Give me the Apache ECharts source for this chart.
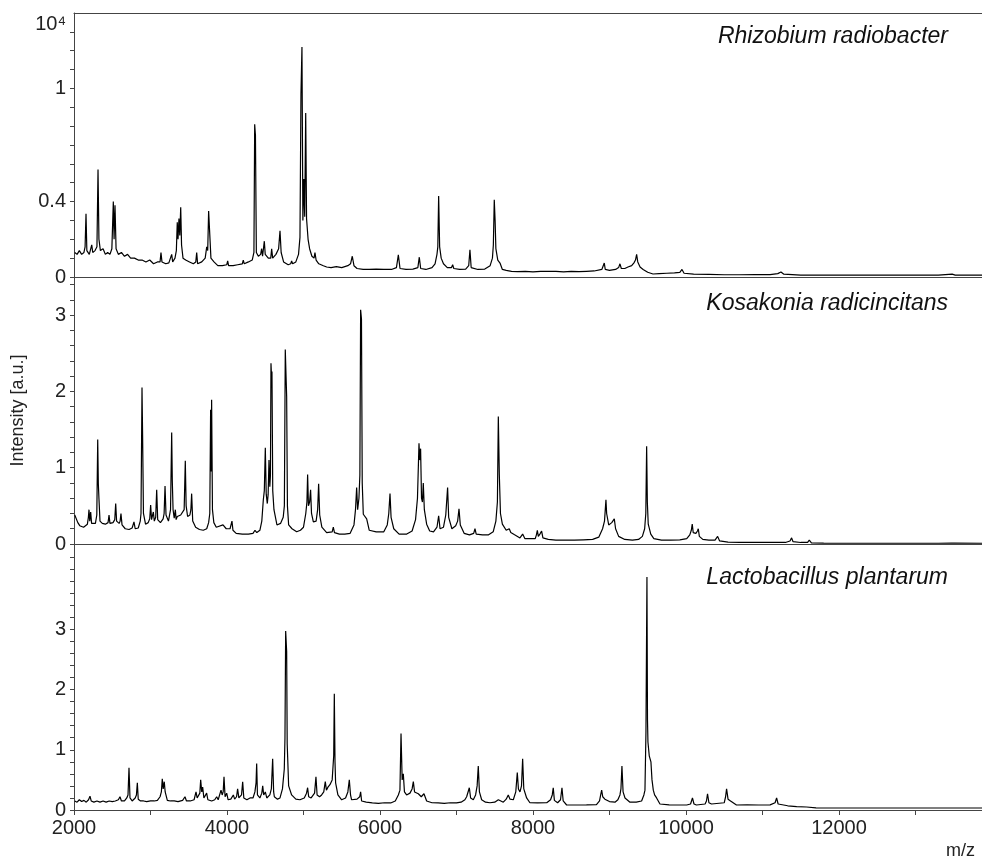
<!DOCTYPE html>
<html lang="en">
<head>
    <meta charset="UTF-8">
    <title>MALDI-TOF spectra</title>
    <script type="text/javascript" src="https://cdn.jsdelivr.net/npm/echarts@6.0.0/dist/echarts.min.js"></script>
    <style>
        html, body { margin: 0; padding: 0; background: #fff; }
        #spectra { width: 982px; height: 862px; }
    </style>
</head>
<body>
<div id="spectra"></div>

<script type="text/javascript">
    // species shown in the three panels (top to bottom)
    var species = ['Rhizobium radiobacter', 'Kosakonia radicincitans', 'Lactobacillus plantarum'];

    // tick labels
    var mzLabels = [2000, 4000, 6000, 8000, 10000, 12000];
    var rhizobiumTicks = [0, 0.4, 1];
    var kosakoniaTicks = [0, 1, 2, 3];
    var lactobacillusTicks = [0, 1, 2, 3];

    // spectra: [m/z, intensity]
    var rhizobium = [
        [2010,0.13],[2040,0.12],[2070,0.14],[2100,0.12],[2130,0.13],[2145,0.16],[2157,0.335],[2168,0.14],[2200,0.12],[2220,0.13],
        [2232,0.17],[2245,0.13],[2275,0.14],[2300,0.16],[2314,0.57],[2326,0.2],[2345,0.14],[2380,0.15],[2410,0.12],[2440,0.13],
        [2470,0.12],[2495,0.15],[2514,0.40],[2524,0.2],[2536,0.38],[2550,0.15],[2580,0.12],[2620,0.13],[2660,0.11],[2700,0.12],
        [2740,0.1],[2790,0.1],[2840,0.09],[2890,0.09],[2940,0.08],[2990,0.09],[3040,0.07],[3090,0.08],[3125,0.08],[3137,0.13],
        [3150,0.08],[3200,0.07],[3240,0.075],[3265,0.08],[3277,0.12],[3290,0.08],[3320,0.1],[3338,0.14],[3350,0.29],[3360,0.2],
        [3372,0.31],[3383,0.22],[3395,0.37],[3406,0.17],[3425,0.1],[3460,0.09],[3510,0.08],[3560,0.07],[3592,0.08],[3604,0.13],
        [3616,0.07],[3670,0.08],[3715,0.1],[3735,0.16],[3748,0.14],[3760,0.35],[3772,0.25],[3790,0.1],[3830,0.08],[3880,0.06],
        [3940,0.06],[3997,0.065],[4009,0.085],[4021,0.06],[4080,0.06],[4140,0.065],[4200,0.07],[4213,0.09],[4226,0.07],[4280,0.08],
        [4330,0.09],[4352,0.13],[4362,0.81],[4372,0.75],[4384,0.13],[4410,0.11],[4440,0.12],[4453,0.15],[4465,0.11],[4478,0.12],
        [4488,0.19],[4500,0.12],[4540,0.1],[4572,0.1],[4584,0.15],[4597,0.1],[4640,0.12],[4675,0.15],[4693,0.245],[4708,0.13],
        [4740,0.08],[4800,0.065],[4833,0.07],[4845,0.085],[4858,0.07],[4900,0.08],[4935,0.12],[4954,0.21],[4967,0.97],[4980,1.22],
        [4992,0.3],[5005,0.52],[5016,0.32],[5029,0.87],[5040,0.31],[5060,0.2],[5080,0.15],[5110,0.11],[5138,0.1],[5150,0.13],
        [5165,0.09],[5200,0.07],[5260,0.06],[5303,0.053],[5360,0.05],[5430,0.055],[5500,0.05],[5580,0.06],[5615,0.07],[5638,0.11],
        [5660,0.06],[5700,0.045],[5780,0.04],[5860,0.04],[5950,0.042],[6050,0.04],[6150,0.04],[6215,0.05],[6240,0.117],[6262,0.045],
        [6340,0.04],[6430,0.042],[6495,0.05],[6514,0.105],[6532,0.045],[6600,0.04],[6680,0.05],[6720,0.07],[6745,0.12],[6756,0.16],
        [6767,0.43],[6780,0.16],[6800,0.1],[6830,0.07],[6880,0.05],[6935,0.05],[6950,0.065],[6965,0.045],[7040,0.04],[7120,0.042],
        [7160,0.06],[7176,0.144],[7192,0.05],[7280,0.04],[7370,0.042],[7440,0.06],[7470,0.1],[7482,0.17],[7494,0.41],[7505,0.3],
        [7515,0.15],[7540,0.09],[7569,0.074],[7600,0.04],[7650,0.035],[7720,0.03],[7800,0.028],[7900,0.03],[8000,0.027],[8100,0.03],
        [8200,0.03],[8300,0.03],[8400,0.027],[8500,0.03],[8600,0.028],[8700,0.03],[8800,0.032],[8900,0.04],[8920,0.05],[8932,0.074],
        [8945,0.04],[9000,0.035],[9080,0.04],[9120,0.05],[9137,0.07],[9155,0.045],[9200,0.045],[9242,0.053],[9290,0.06],[9320,0.075],
        [9340,0.09],[9355,0.12],[9370,0.08],[9400,0.053],[9440,0.04],[9500,0.025],[9569,0.016],[9650,0.018],[9750,0.02],[9850,0.022],
        [9920,0.025],[9948,0.04],[9975,0.02],[10100,0.015],[10300,0.014],[10500,0.012],[10700,0.012],[10900,0.013],[11100,0.013],[11200,0.018],
        [11242,0.027],[11280,0.015],[11500,0.01],[11800,0.01],[12100,0.01],[12400,0.01],[12700,0.01],[13000,0.01],[13300,0.01],[13480,0.015],
        [13520,0.01],[13870,0.01]
    ];

    var kosakonia = [
        [2010,0.38],[2030,0.36],[2050,0.28],[2075,0.24],[2100,0.25],[2125,0.22],[2150,0.24],[2175,0.26],[2188,0.35],[2196,0.45],
        [2206,0.3],[2218,0.42],[2230,0.27],[2255,0.25],[2280,0.27],[2298,0.38],[2310,1.37],[2318,0.79],[2326,0.6],[2340,0.3],
        [2370,0.27],[2410,0.26],[2445,0.28],[2458,0.38],[2470,0.27],[2510,0.28],[2533,0.32],[2545,0.53],[2557,0.3],[2590,0.27],
        [2603,0.3],[2614,0.4],[2628,0.25],[2670,0.2],[2720,0.19],[2760,0.21],[2784,0.29],[2800,0.2],[2840,0.21],[2866,0.3],
        [2876,0.4],[2889,2.05],[2897,1.41],[2908,0.4],[2935,0.26],[2970,0.28],[2990,0.33],[3002,0.51],[3014,0.32],[3028,0.34],
        [3037,0.42],[3050,0.3],[3068,0.35],[3081,0.71],[3094,0.32],[3130,0.28],[3165,0.33],[3178,0.4],[3190,0.76],[3203,0.38],
        [3235,0.3],[3262,0.45],[3277,1.46],[3285,0.83],[3295,0.45],[3310,0.34],[3325,0.45],[3335,0.32],[3350,0.36],[3370,0.34],
        [3395,0.38],[3420,0.36],[3440,0.45],[3455,1.09],[3466,0.5],[3485,0.36],[3515,0.38],[3528,0.45],[3538,0.66],[3552,0.3],
        [3590,0.22],[3640,0.19],[3690,0.18],[3735,0.2],[3760,0.28],[3775,0.4],[3786,1.76],[3793,0.95],[3799,1.89],[3810,0.45],
        [3828,0.28],[3860,0.22],[3882,0.2],[3948,0.25],[3990,0.2],[4040,0.2],[4055,0.22],[4065,0.3],[4078,0.18],[4120,0.14],
        [4200,0.13],[4280,0.13],[4340,0.14],[4366,0.18],[4390,0.15],[4430,0.18],[4455,0.3],[4475,0.58],[4488,0.7],[4501,1.26],
        [4513,0.65],[4527,0.53],[4538,0.65],[4549,1.1],[4560,0.75],[4568,0.9],[4575,2.37],[4582,2.2],[4588,2.26],[4598,0.7],
        [4614,0.45],[4653,0.25],[4700,0.27],[4735,0.35],[4750,0.5],[4762,2.55],[4772,2.2],[4780,1.93],[4790,0.5],[4806,0.25],
        [4850,0.2],[4911,0.16],[4960,0.18],[5000,0.22],[5030,0.4],[5045,0.55],[5054,0.91],[5065,0.5],[5080,0.55],[5093,0.71],
        [5105,0.4],[5129,0.29],[5165,0.3],[5185,0.45],[5198,0.79],[5212,0.38],[5240,0.22],[5303,0.15],[5375,0.16],[5390,0.22],
        [5405,0.15],[5470,0.13],[5540,0.13],[5610,0.14],[5660,0.25],[5680,0.45],[5695,0.74],[5708,0.45],[5725,0.6],[5737,0.9],
        [5747,3.07],[5758,2.95],[5768,0.8],[5782,0.39],[5826,0.33],[5860,0.18],[5950,0.16],[6050,0.16],[6095,0.25],[6115,0.4],
        [6131,0.66],[6145,0.35],[6180,0.2],[6250,0.13],[6350,0.13],[6420,0.17],[6465,0.32],[6490,0.6],[6510,1.32],[6520,1.1],
        [6531,1.25],[6543,0.6],[6555,0.55],[6566,0.8],[6580,0.45],[6610,0.26],[6650,0.17],[6700,0.16],[6745,0.22],[6767,0.37],
        [6785,0.2],[6830,0.22],[6860,0.38],[6884,0.74],[6898,0.35],[6940,0.2],[6990,0.24],[7015,0.3],[7033,0.46],[7050,0.25],
        [7100,0.14],[7170,0.12],[7225,0.14],[7242,0.2],[7258,0.13],[7340,0.12],[7420,0.12],[7480,0.16],[7515,0.3],[7535,0.55],
        [7547,1.67],[7560,0.91],[7575,0.4],[7600,0.26],[7650,0.18],[7675,0.17],[7690,0.2],[7710,0.15],[7760,0.12],[7830,0.08],
        [7865,0.13],[7895,0.07],[7960,0.07],[8030,0.07],[8045,0.12],[8057,0.18],[8070,0.1],[8090,0.13],[8113,0.17],[8130,0.08],
        [8200,0.06],[8300,0.05],[8420,0.05],[8540,0.05],[8660,0.055],[8780,0.06],[8860,0.09],[8910,0.2],[8935,0.3],[8954,0.58],
        [8963,0.4],[8971,0.39],[8990,0.25],[9030,0.28],[9050,0.3],[9063,0.33],[9080,0.2],[9120,0.1],[9200,0.06],[9300,0.05],
        [9380,0.06],[9430,0.1],[9460,0.2],[9475,0.4],[9486,1.28],[9495,0.55],[9507,0.26],[9540,0.13],[9580,0.07],[9680,0.05],
        [9800,0.05],[9920,0.055],[10010,0.07],[10050,0.12],[10070,0.18],[10082,0.26],[10095,0.15],[10130,0.14],[10150,0.17],[10161,0.2],
        [10175,0.1],[10220,0.06],[10300,0.05],[10380,0.05],[10414,0.1],[10440,0.04],[10550,0.025],[10700,0.02],[10900,0.02],[11100,0.02],
        [11300,0.02],[11360,0.04],[11381,0.08],[11400,0.03],[11500,0.02],[11590,0.02],[11612,0.05],[11640,0.015],[11800,0.012],[12100,0.01],
        [12400,0.01],[12700,0.01],[13000,0.01],[13300,0.01],[13470,0.012],[13490,0.03],[13510,0.012],[13870,0.01]
    ];

    var lactobacillus = [
        [2010,0.15],[2040,0.13],[2070,0.17],[2100,0.14],[2130,0.16],[2160,0.13],[2190,0.17],[2209,0.23],[2225,0.15],[2260,0.13],
        [2300,0.15],[2340,0.13],[2380,0.15],[2420,0.13],[2460,0.15],[2500,0.14],[2540,0.15],[2580,0.17],[2601,0.22],[2620,0.15],
        [2660,0.15],[2690,0.2],[2706,0.25],[2719,0.7],[2732,0.2],[2760,0.15],[2776,0.17],[2800,0.2],[2816,0.25],[2828,0.45],
        [2840,0.18],[2870,0.15],[2910,0.15],[2950,0.14],[3000,0.15],[3050,0.15],[3090,0.16],[3125,0.22],[3142,0.3],[3154,0.52],
        [3166,0.35],[3180,0.47],[3192,0.3],[3203,0.3],[3220,0.16],[3260,0.15],[3310,0.15],[3360,0.14],[3420,0.16],[3451,0.22],
        [3470,0.15],[3520,0.15],[3570,0.17],[3595,0.3],[3610,0.2],[3630,0.2],[3645,0.28],[3656,0.5],[3670,0.3],[3682,0.38],
        [3698,0.2],[3720,0.2],[3734,0.28],[3750,0.17],[3800,0.15],[3840,0.17],[3865,0.22],[3885,0.17],[3910,0.2],[3922,0.33],
        [3937,0.25],[3950,0.3],[3961,0.55],[3975,0.22],[3996,0.28],[4015,0.17],[4050,0.18],[4083,0.25],[4100,0.18],[4125,0.22],
        [4139,0.35],[4155,0.2],[4190,0.25],[4205,0.47],[4220,0.2],[4260,0.17],[4301,0.2],[4340,0.2],[4365,0.3],[4380,0.45],
        [4388,0.77],[4398,0.25],[4430,0.2],[4455,0.28],[4467,0.4],[4480,0.25],[4501,0.3],[4520,0.2],[4560,0.25],[4580,0.35],
        [4597,0.85],[4610,0.3],[4619,0.22],[4660,0.18],[4693,0.2],[4725,0.35],[4749,0.68],[4758,1.2],[4767,2.97],[4780,2.63],
        [4787,1.1],[4793,0.88],[4806,0.4],[4845,0.25],[4900,0.18],[4954,0.17],[5010,0.2],[5040,0.28],[5054,0.37],[5068,0.22],
        [5100,0.2],[5145,0.28],[5163,0.55],[5178,0.25],[5210,0.22],[5237,0.25],[5265,0.3],[5285,0.47],[5300,0.33],[5320,0.38],
        [5346,0.42],[5375,0.5],[5395,0.9],[5403,1.93],[5412,0.8],[5420,0.45],[5450,0.25],[5499,0.17],[5550,0.2],[5580,0.3],
        [5599,0.5],[5615,0.25],[5629,0.17],[5700,0.18],[5735,0.22],[5747,0.3],[5760,0.15],[5820,0.13],[5900,0.117],[5980,0.11],
        [6060,0.12],[6140,0.117],[6200,0.15],[6240,0.25],[6261,0.33],[6275,1.27],[6290,0.5],[6305,0.6],[6320,0.3],[6348,0.25],
        [6392,0.28],[6420,0.35],[6436,0.47],[6452,0.3],[6501,0.27],[6540,0.22],[6575,0.27],[6610,0.15],[6680,0.12],[6760,0.117],
        [6840,0.11],[6920,0.12],[7000,0.117],[7060,0.13],[7110,0.17],[7133,0.22],[7150,0.25],[7168,0.37],[7185,0.2],[7220,0.17],
        [7250,0.25],[7270,0.4],[7285,0.73],[7300,0.3],[7329,0.17],[7380,0.13],[7438,0.12],[7500,0.13],[7547,0.17],[7580,0.15],
        [7612,0.13],[7650,0.18],[7677,0.25],[7700,0.18],[7743,0.17],[7775,0.3],[7795,0.62],[7810,0.35],[7830,0.3],[7850,0.4],
        [7865,0.85],[7880,0.35],[7917,0.2],[7960,0.12],[8060,0.117],[8180,0.12],[8230,0.17],[8252,0.25],[8265,0.37],[8280,0.16],
        [8322,0.12],[8360,0.17],[8379,0.37],[8395,0.15],[8440,0.083],[8560,0.083],[8700,0.085],[8830,0.09],[8870,0.15],[8885,0.25],
        [8898,0.33],[8912,0.22],[8940,0.18],[8963,0.17],[9000,0.14],[9072,0.13],[9110,0.17],[9137,0.25],[9150,0.35],[9163,0.73],
        [9178,0.3],[9203,0.2],[9268,0.13],[9350,0.13],[9420,0.15],[9450,0.25],[9464,0.33],[9477,1.3],[9490,3.87],[9497,1.5],
        [9503,1.13],[9520,0.9],[9542,0.8],[9556,0.5],[9573,0.33],[9590,0.25],[9616,0.2],[9660,0.1],[9780,0.085],[9900,0.083],
        [10010,0.083],[10060,0.1],[10085,0.2],[10105,0.1],[10137,0.083],[10250,0.1],[10268,0.15],[10282,0.27],[10300,0.12],[10334,0.1],
        [10500,0.12],[10518,0.22],[10531,0.35],[10550,0.18],[10583,0.15],[10660,0.083],[10800,0.085],[10950,0.083],[11100,0.085],[11165,0.12],
        [11185,0.2],[11205,0.1],[11229,0.083],[11330,0.07],[11447,0.055],[11577,0.05],[11700,0.035],[11900,0.033],[12200,0.033],[12500,0.033],
        [12800,0.033],[13100,0.033],[13400,0.033],[13870,0.033]
    ];

    var font = "'Liberation Sans', Arial, sans-serif";
    var axisColor = '#444';
    var textColor = '#222';

    function pickLabel(list) {
        return function (v) {
            for (var i = 0; i < list.length; i++) {
                if (Math.abs(v - list[i]) < 1e-6) return String(list[i]);
            }
            return '';
        };
    }

    var grids = [
        {left: 74, right: 0, top: 13, height: 264},
        {left: 74, right: 0, top: 277, height: 267},
        {left: 74, right: 0, top: 545, height: 265}
    ];

    var xAxes = [0, 1, 2].map(function (i) {
        return {
            type: 'value', gridIndex: i, min: 2000, max: 13870, interval: 1000,
            axisLine: {show: true, onZero: false, lineStyle: {color: axisColor, width: 1}},
            axisTick: {show: i === 2, length: 5, lineStyle: {color: axisColor}},
            axisLabel: {
                show: i === 2, formatter: pickLabel(mzLabels), showMaxLabel: false,
                fontSize: 20, color: textColor, fontFamily: font, margin: 8
            },
            splitLine: {show: false}
        };
    });
    // top edge of the first panel (no right side to the frame)
    xAxes.push({
        type: 'value', gridIndex: 0, position: 'top', min: 2000, max: 13870,
        axisLine: {show: true, onZero: false, lineStyle: {color: axisColor, width: 1}},
        axisTick: {show: false}, axisLabel: {show: false}, splitLine: {show: false}
    });

    var yMax = [1.4, 3.5, 4.4];
    var yStep = [0.1, 0.2, 0.2];
    var yTicks = [rhizobiumTicks, kosakoniaTicks, lactobacillusTicks];
    var yAxes = [0, 1, 2].map(function (i) {
        var ax = {
            type: 'value', gridIndex: i, min: 0, max: yMax[i], interval: yStep[i],
            axisLine: {show: true, lineStyle: {color: axisColor, width: 1}},
            axisTick: {show: true, length: 4, lineStyle: {color: axisColor}},
            axisLabel: {
                formatter: pickLabel(yTicks[i]), showMaxLabel: false,
                fontSize: 20, color: textColor, fontFamily: font, margin: 8
            },
            splitLine: {show: false}
        };
        if (i === 0) {
            ax.name = '10\u2074';
            ax.nameLocation = 'end';
            ax.nameGap = -11;
            ax.nameTextStyle = {align: 'right', verticalAlign: 'middle', padding: [0, 8, 0, 0],
                fontSize: 20, color: textColor, fontFamily: font};
        }
        if (i === 1) {
            ax.name = 'Intensity [a.u.]';
            ax.nameLocation = 'middle';
            ax.nameGap = 47;
            ax.nameTextStyle = {fontSize: 18, color: textColor, fontFamily: font};
        }
        return ax;
    });

    var spectra = [rhizobium, kosakonia, lactobacillus];
    var titleTops = [25, 292, 566];

    var option = {
        backgroundColor: '#fff',
        animation: false,
        title: species.map(function (s, i) {
            return {
                text: s, right: 34, top: titleTops[i], padding: 0,
                textStyle: {fontStyle: 'italic', fontWeight: 'normal', fontSize: 23, color: '#111', fontFamily: font}
            };
        }),
        grid: grids,
        xAxis: xAxes,
        yAxis: yAxes,
        graphic: [{
            type: 'text', right: 7, top: 842,
            style: {text: 'm/z', fontSize: 18, fill: textColor, fontFamily: font}
        }],
        series: spectra.map(function (d, i) {
            return {
                name: species[i], type: 'line', xAxisIndex: i, yAxisIndex: i,
                data: d, showSymbol: false, symbol: 'none',
                lineStyle: {color: '#000', width: 1.2}
            };
        })
    };

    var chart = echarts.init(document.getElementById('spectra'));
    chart.setOption(option);
</script>
</body>
</html>
